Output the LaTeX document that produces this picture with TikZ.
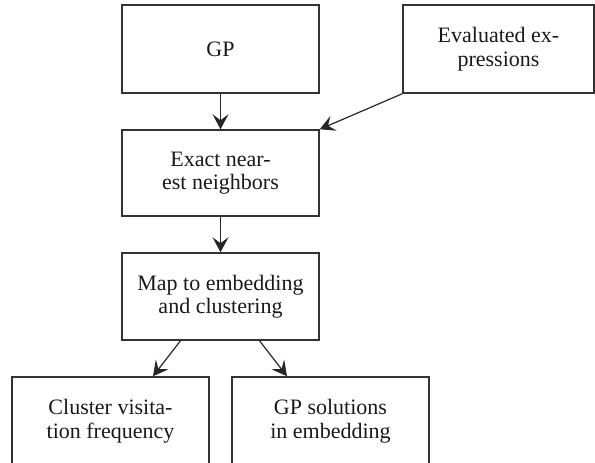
\documentclass[tikz,border=0pt]{standalone}
\usepackage{fontspec}
\setmainfont{Liberation Serif}
\usetikzlibrary{arrows.meta}
\begin{document}
\begin{tikzpicture}[x=1pt,y=-1pt,
  box/.style={draw=black!80, line width=1.5pt, rectangle, inner sep=0pt,
    minimum width=197pt, minimum height=88pt, align=center,
    font=\fontsize{22pt}{23.5pt}\selectfont, text=black!90},
  arr/.style={draw=black!85, line width=1.2pt,
    -{Stealth[length=15pt, width=16pt, inset=6pt]}}]
  \useasboundingbox (0,0) rectangle (595,463);
  \clip (0,0) rectangle (595,463);

  % process boxes
  \node[box] (gp) at (220.5,49) {GP};
  \node[box, minimum width=191pt] (eval) at (498.5,49) {Evaluated ex-\\pressions};
  \node[box, minimum height=86pt] (exact) at (220.5,173) {Exact near-\\est neighbors};
  \node[box, minimum height=87pt] (map) at (220.5,296.5) {Map to embedding\\and clustering};
  \node[box] (cluster) at (110.5,421) {Cluster visita-\\tion frequency};
  \node[box] (gpsol) at (330.5,421) {GP solutions\\in embedding};

  % flow
  \draw[arr] (gp) -- (exact);
  \draw[arr] (eval.south west) -- (exact.north east);
  \draw[arr] (exact) -- (map);
  \draw[arr] ([xshift=-40pt]map.south) -- ([xshift=42.5pt]cluster.north);
  \draw[arr] ([xshift=39pt]map.south) -- ([xshift=-43.5pt]gpsol.north);
\end{tikzpicture}
\end{document}
